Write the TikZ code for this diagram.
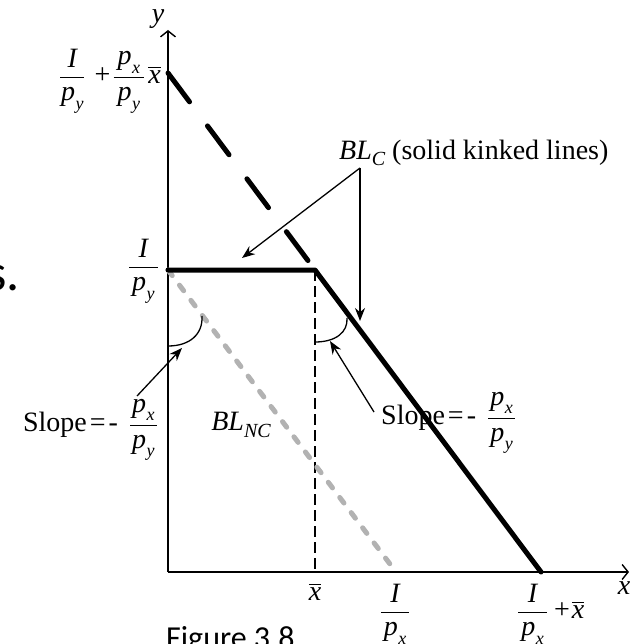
\documentclass[tikz,border=0pt]{standalone}
\usepackage{amsmath}
\usepackage{fontspec}
\setmainfont{Liberation Serif}
\newfontfamily\slidefont{Carlito}
\usetikzlibrary{arrows.meta,calc}
\newcommand{\vI}{\mbox{\itshape I}}
\newcommand{\vP}[1]{\mbox{\itshape p\kern0.5pt\raisebox{-0.3em}{\fontsize{18}{18}\selectfont #1}}}
\newcommand{\vX}{\overline{\mbox{\itshape x}}}
\newcommand{\fr}[3][3pt]{\genfrac{}{}{1.3pt}{0}{\mbox{\kern#1$#2$\kern#1}}{\mbox{\kern#1$#3$\kern#1}}}
\newcommand{\plusgap}[2]{\mbox{\hspace{#1}+\hspace{#2}}}
\newcommand{\slopetext}{\mbox{Slope\hspace{3pt}=\hspace{3pt}-\hspace{11pt}}}
\newcommand{\blsub}[1]{\textit{BL}\raisebox{-0.22em}{\fontsize{20}{20}\selectfont\itshape #1}}
\tikzset{
  axisline/.style={line width=1.6pt,-{Straight Barb[length=6pt,width=15pt,line width=1.4pt]}},
  budget/.style={line width=5pt,line cap=round,line join=round},
  bigdash/.style={line width=5pt,line cap=round,dash pattern=on 36pt off 30pt},
  graydash/.style={line width=5pt,line cap=round,color=gray!60,dash pattern=on 7pt off 12pt},
  thindash/.style={line width=1.3pt,dash pattern=on 11pt off 5pt},
  pointer/.style={line width=1.3pt,-{Stealth[length=13pt,width=10pt]}},
  thinarc/.style={line width=1.3pt},
  lbl/.style={inner sep=0pt,font=\fontsize{28}{32}\selectfont},
}
\begin{document}
\begin{tikzpicture}[x=1pt,y=-1pt]
\useasboundingbox (0,0) rectangle (633,644);
% key points
\coordinate (O) at (168,572);
\coordinate (Ytop) at (168,30);
\coordinate (Xend) at (629,572);
\coordinate (A) at (168,73);
\coordinate (Iy) at (168,270);
\coordinate (K) at (315,270);
\coordinate (Xb) at (315,572);
\coordinate (D) at (396,572);
\coordinate (C) at (541,572);
\coordinate (V) at (360,168);
\coordinate (Vdown) at (360,321);
\coordinate (Vleft) at (242,258);
\coordinate (LarcA) at (168,346);
\coordinate (LarcB) at (202,316);
\coordinate (LarrS) at (137,396);
\coordinate (LarrE) at (182,348);
\coordinate (RarcA) at (315,342);
\coordinate (RarcB) at (347,318);
\coordinate (RarrS) at (374,412);
\coordinate (RarrE) at (330,341);
% slide fragments
\node[anchor=base east,inner sep=0pt,font=\slidefont\fontsize{52}{56}\selectfont] (sfrag) at (20,290) {s.};
\node[anchor=base west,inner sep=0pt,font=\slidefont\fontsize{32}{36}\selectfont] (fig) at (166,648) {Figure 3.8};
% axes
\draw[axisline] (O) -- (Ytop);
\draw[axisline] (O) -- (Xend);
\node[lbl] (ylab) at (158,19) {\textit{y}};
\node[lbl] (xlab) at (624,588) {\textit{x}};
% guide lines
\draw[thindash] (K) -- (Xb);
\draw[graydash] (Iy) -- (D);
% labels
\node[lbl,anchor=east] (topl) at (161,81) {$\fr[1pt]{\vI}{\vP{y}}\plusgap{9pt}{2pt}\fr[4pt]{\vP{x}}{\vP{y}}\kern3pt\vX$};
\node[lbl,anchor=east] (iyl) at (159,271) {$\fr{\vI}{\vP{y}}$};
\node[lbl] (xbl) at (315,592) {$\vX$};
\node[lbl] (ipx) at (395,614) {$\fr{\vI}{\vP{x}}$};
\node[lbl,anchor=west] (ipxb) at (517,614) {$\fr{\vI}{\vP{x}}\plusgap{6pt}{2pt}\vX$};
\node[lbl,anchor=east] (lslope) at (158,430) {\slopetext$\fr[2pt]{\vP{x}}{\vP{y}}$};
\node[lbl,anchor=west] (rslope) at (381,423) {\slopetext$\fr[2pt]{\vP{x}}{\vP{y}}$};
\node[lbl] (blnc) at (241,425) {\blsub{NC}};
\node[lbl,anchor=west] (blc) at (339,153) {\blsub{C} (solid kinked lines)};
% budget lines
\draw[bigdash] (A) -- (K);
\draw[budget] (Iy) -- (K) -- (C);
% slope arcs and pointers
\draw[thinarc] (LarcA) .. controls (190,346) and (203,334) .. (LarcB);
\draw[thinarc] (RarcA) .. controls (336,342) and (348,332) .. (RarcB);
\draw[pointer] (LarrS) -- (LarrE);
\draw[pointer] (RarrS) -- (RarrE);
\draw[pointer] (V) -- (Vleft);
\draw[pointer] (V) -- (Vdown);
\end{tikzpicture}
\end{document}
